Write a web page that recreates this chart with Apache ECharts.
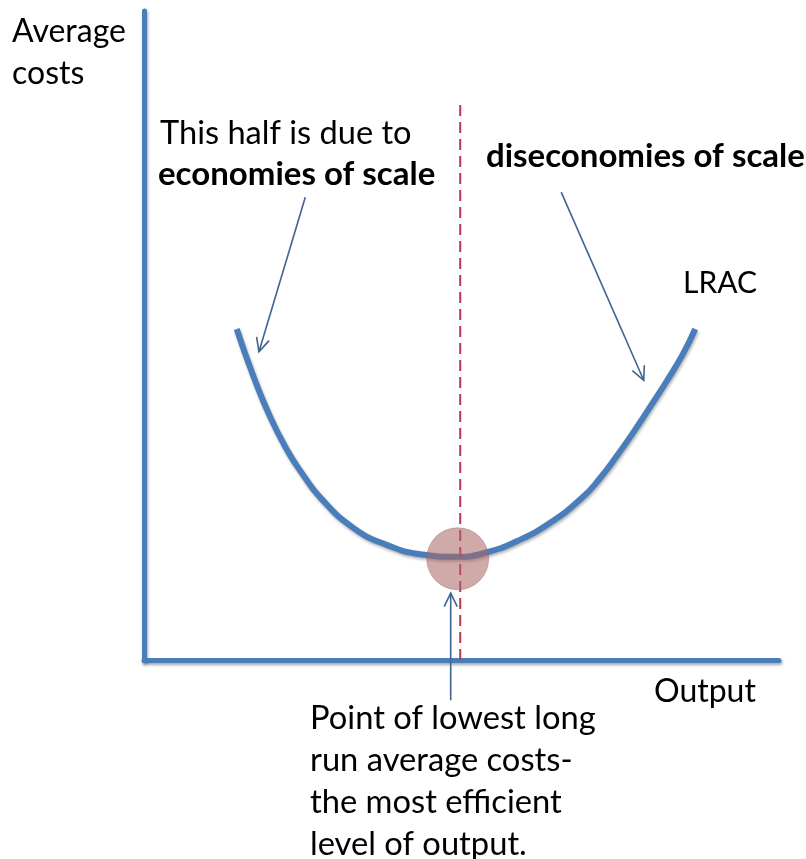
<!DOCTYPE html>
<html>
<head>
<meta charset="utf-8">
<script src="https://cdn.jsdelivr.net/npm/echarts@6/dist/echarts.min.js"></script>
<style>
html,body{margin:0;padding:0;background:#fff;}
#chart{width:806px;height:859px;}
</style>
</head>
<body>
<div id="chart"></div>
<script>
// Long-run average cost curve (output units 0-100, cost units 0-100)
var lracOutput = [14.6, 17.2, 19.8, 22.5, 25.0, 27.7, 32.9, 38.3, 43.5, 49.4, 54.0, 58.7, 63.9, 69.1, 71.8, 74.5, 77.0, 79.7, 82.4, 84.9, 86.8];
var lracCost   = [51.0, 43.8, 37.6, 32.4, 28.6, 25.1, 20.4, 17.7, 16.3, 15.9, 16.6, 18.3, 21.1, 25.1, 28.0, 31.5, 35.0, 39.0, 43.1, 47.2, 51.0];
// Minimum point of LRAC
var minPoint = [49.4, 15.6];
// Dividing (dashed) line at minimum efficient output
var dividerX = 49.8;
var dividerTop = 86.3;
// Annotation arrows: [fromX, fromY, toX, toY]
var arrows = [
  [25.4, 71.3, 18.1, 47.5],
  [65.7, 72.1, 78.7, 43.1],
  [48.3, -6.2, 48.3, 10.3]
];
// Texts
var yAxisTitle = ['Average', 'costs'];
var xAxisTitle = 'Output';
var curveLabel = 'LRAC';
var leftNote = ['This half is due to', 'economies of scale'];
var rightNote = 'diseconomies of scale';
var bottomNote = ['Point of lowest long', 'run average costs-', 'the most efficient', 'level of output.'];

var FONT = 'Lato, "Open Sans", sans-serif';
var AXIS_BLUE = '#4a7ebb';

var chart = echarts.init(document.getElementById('chart'), null, {renderer: 'canvas'});

var axisCommon = {
  type: 'value', min: 0, max: 100,
  axisLine: {show: true, onZero: false, lineStyle: {color: AXIS_BLUE, width: 5, shadowColor: 'rgba(0,0,0,0.35)', shadowBlur: 3, shadowOffsetX: 1, shadowOffsetY: 2}},
  axisTick: {show: false}, axisLabel: {show: false}, splitLine: {show: false}
};

function txt(text, x, y, size, bold) {
  return {
    type: 'text', left: x, top: y - size * 0.62,
    style: {text: text, fontFamily: FONT, fontSize: size, fontWeight: bold ? 'bold' : 'normal', fill: '#000'},
    z: 100
  };
}

var graphics = [];
graphics.push(txt(yAxisTitle[0], 12, 36, 32));
graphics.push(txt(yAxisTitle[1], 12, 78, 32));
graphics.push(txt(leftNote[0], 160, 137, 32.6));
graphics.push(txt(leftNote[1], 158, 178, 33, true));
graphics.push(txt(rightNote, 486, 160, 33, true));
graphics.push(txt(curveLabel, 683, 287, 30));
graphics.push(txt(xAxisTitle, 654, 696, 32));
for (var i = 0; i < bottomNote.length; i++) {
  graphics.push(txt(bottomNote[i], 310, 722 + i * 42, 32.7));
}

var option = {
  backgroundColor: '#ffffff',
  animation: false,
  grid: {left: 144, right: 27, top: 11, bottom: 199},
  xAxis: axisCommon,
  yAxis: axisCommon,
  graphic: graphics,
  series: [
    {
      type: 'line', name: 'LRAC',
      data: lracOutput.map(function (x, i) { return [x, lracCost[i]]; }),
      smooth: 0.5, showSymbol: false, symbol: 'none',
      lineStyle: {color: AXIS_BLUE, width: 6, shadowColor: 'rgba(0,0,0,0.3)', shadowBlur: 3, shadowOffsetX: 1, shadowOffsetY: 2},
      z: 3
    },
    {
      type: 'line', name: 'divider',
      data: [[dividerX, 0], [dividerX, dividerTop]],
      showSymbol: false, symbol: 'none',
      lineStyle: {color: '#b93552', width: 2, type: [11, 6]},
      z: 4
    },
    {
      type: 'scatter', name: 'min',
      data: [minPoint], symbolSize: 62,
      itemStyle: {color: 'rgba(172,104,102,0.7)', borderColor: 'rgba(150,100,100,0.5)', borderWidth: 1},
      z: 5
    },
    {
      type: 'custom', name: 'arrows',
      data: arrows,
      encode: {x: [0, 2], y: [1, 3]},
      clip: false,
      renderItem: function (params, api) {
        var p1 = api.coord([api.value(0), api.value(1)]);
        var p2 = api.coord([api.value(2), api.value(3)]);
        var ang = Math.atan2(p2[1] - p1[1], p2[0] - p1[0]);
        var L = 15, a = 0.45;
        var h1 = [p2[0] - L * Math.cos(ang - a), p2[1] - L * Math.sin(ang - a)];
        var h2 = [p2[0] - L * Math.cos(ang + a), p2[1] - L * Math.sin(ang + a)];
        var st = {stroke: '#3f6490', lineWidth: 1.6, fill: null};
        return {
          type: 'group',
          children: [
            {type: 'line', shape: {x1: p1[0], y1: p1[1], x2: p2[0], y2: p2[1]}, style: st},
            {type: 'polyline', shape: {points: [h1, p2, h2]}, style: st}
          ]
        };
      },
      z: 6
    }
  ]
};
chart.setOption(option);
</script>
</body>
</html>
